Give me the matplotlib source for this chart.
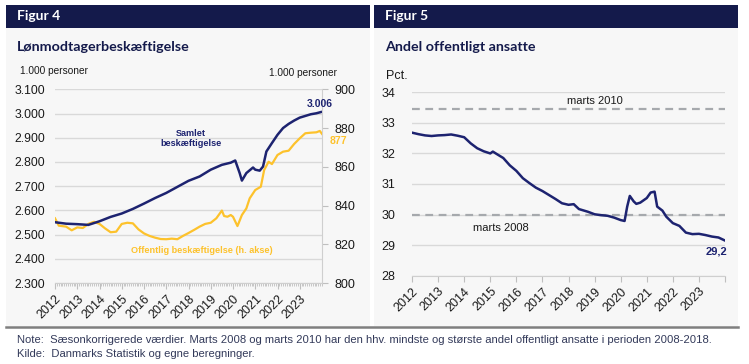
import matplotlib
matplotlib.use("Agg")
import matplotlib.pyplot as plt
from matplotlib.patches import Rectangle
from matplotlib.lines import Line2D
from matplotlib.ticker import MultipleLocator

# ---------------- data ----------------
years = list(range(2012, 2024))
year_labels = [str(y) for y in years]

samlet_x = [2012.0, 2012.5, 2013.0, 2013.5, 2014.0, 2014.5, 2015.0, 2015.5, 2016.0, 2016.5,
            2017.0, 2017.5, 2018.0, 2018.5, 2019.0, 2019.5, 2019.9, 2020.1, 2020.3, 2020.4,
            2020.6, 2020.9, 2021.0, 2021.2, 2021.35, 2021.5, 2021.75, 2022.0, 2022.25, 2022.5,
            2022.75, 2023.0, 2023.25, 2023.5, 2023.75, 2023.95]
samlet_y = [2551, 2545, 2543, 2540, 2555, 2573, 2587, 2606, 2628, 2651,
            2672, 2697, 2722, 2740, 2768, 2788, 2797, 2806, 2754, 2723,
            2754, 2777, 2768, 2764, 2781, 2843, 2878, 2912, 2940, 2957,
            2971, 2983, 2990, 2997, 3001, 3006]

offentlig_x = [2012.0, 2012.17, 2012.5, 2012.75, 2013.0, 2013.25, 2013.5, 2013.75, 2014.0, 2014.25,
               2014.5, 2014.75, 2015.0, 2015.25, 2015.5, 2015.75, 2016.0, 2016.25, 2016.5, 2016.75,
               2017.0, 2017.25, 2017.5, 2017.75, 2018.0, 2018.25, 2018.5, 2018.75, 2019.0, 2019.25,
               2019.5, 2019.6, 2019.75, 2019.9, 2020.0, 2020.2, 2020.25, 2020.4, 2020.6, 2020.75,
               2021.0, 2021.25, 2021.4, 2021.6, 2021.75, 2022.0, 2022.25, 2022.5, 2022.75, 2023.0,
               2023.25, 2023.5, 2023.75, 2023.9, 2024.0]
offentlig_y = [833.4, 829.6, 829.1, 827.2, 828.7, 828.4, 830.5, 831.6, 830.5, 828.2,
               826.2, 826.5, 830.5, 831.1, 830.8, 827.7, 825.6, 824.3, 823.4, 822.7,
               822.6, 822.9, 822.6, 824.3, 825.8, 827.4, 829.1, 830.5, 831.1, 833.4,
               837.4, 834.6, 834.2, 835.1, 834.2, 829.4, 830.8, 835.1, 838.5, 843.7,
               848.0, 849.7, 858.3, 862.6, 861.4, 866.1, 867.8, 868.3, 871.8, 874.7,
               877.3, 877.6, 877.8, 878.5, 877.0]

andel_x = [2012.0, 2012.25, 2012.5, 2012.75, 2013.0, 2013.25, 2013.5, 2013.75, 2014.0, 2014.25,
           2014.5, 2014.75, 2015.0, 2015.1, 2015.25, 2015.5, 2015.75, 2016.0, 2016.25, 2016.5,
           2016.75, 2017.0, 2017.25, 2017.5, 2017.75, 2018.0, 2018.2, 2018.4, 2018.75, 2019.0,
           2019.25, 2019.5, 2019.75, 2020.0, 2020.15, 2020.25, 2020.35, 2020.5, 2020.6, 2020.75,
           2021.0, 2021.15, 2021.3, 2021.4, 2021.6, 2021.75, 2022.0, 2022.25, 2022.5, 2022.75,
           2023.0, 2023.25, 2023.5, 2023.75, 2024.0]
andel_y = [32.68, 32.63, 32.59, 32.57, 32.59, 32.60, 32.62, 32.58, 32.53, 32.33,
           32.17, 32.07, 32.00, 32.06, 31.98, 31.85, 31.61, 31.43, 31.19, 31.03,
           30.88, 30.77, 30.64, 30.51, 30.37, 30.32, 30.34, 30.18, 30.09, 30.01,
           29.98, 29.96, 29.90, 29.82, 29.79, 30.26, 30.61, 30.43, 30.35, 30.39,
           30.54, 30.72, 30.75, 30.26, 30.13, 29.93, 29.72, 29.63, 29.41, 29.36,
           29.37, 29.33, 29.28, 29.25, 29.15]

marts2010 = 33.45
marts2008 = 30.0

left_ticks = [2300, 2400, 2500, 2600, 2700, 2800, 2900, 3000, 3100]
right_ticks = [800, 820, 840, 860, 880, 900]
pct_ticks = [28, 29, 30, 31, 32, 33, 34]

# ---------------- style ----------------
NAVY_HDR = "#141a4b"
NAVY = "#1d2370"
YELLOW = "#fdc22c"
GRID = "#d9d9d9"
PANEL = "#f7f7f7"
TXT = "#1a1a1a"
FONT = "Liberation Sans"
TFONT = "Lato"

W, H = 749, 364
fig = plt.figure(figsize=(W / 100, H / 100), dpi=100)
fig.patch.set_facecolor("white")


def fx(px):
    return px / W


def fy(py):
    return 1 - py / H


def rect(x0, y0, x1, y1, color):
    fig.patches.append(Rectangle((fx(x0), fy(y1)), fx(x1) - fx(x0), fy(y0) - fy(y1),
                                 transform=fig.transFigure, facecolor=color,
                                 edgecolor="none", zorder=-5))


# panels
for (x0, x1, title, sub) in [(6, 370, "Figur 4", "Lønmodtagerbeskæftigelse"),
                              (374, 738, "Figur 5", "Andel offentligt ansatte")]:
    rect(x0, 28, x1, 326, PANEL)
    rect(x0, 5, x1, 28, NAVY_HDR)
    fig.text(fx(x0 + 11), fy(16.5), title, color="white", fontsize=10,
             fontweight="bold", family=TFONT, va="center", ha="left")
    fig.text(fx(x0 + 11), fy(47), sub, color=NAVY_HDR, fontsize=10.3,
             fontweight="bold", family=TFONT, va="center", ha="left")

fig.lines.append(Line2D([fx(6), fx(738)], [fy(326.5), fy(326.5)], transform=fig.transFigure,
                        color="#7f7f7f", lw=1.8))

fig.text(fx(17), fy(340), "Note:  Sæsonkorrigerede værdier. Marts 2008 og marts 2010 har den hhv. "
         "mindste og største andel offentligt ansatte i perioden 2008-2018.",
         fontsize=8.1, family=FONT, color="#333a5a", va="center", ha="left")
fig.text(fx(17), fy(354), "Kilde:  Danmarks Statistik og egne beregninger.",
         fontsize=8.1, family=FONT, color="#333a5a", va="center", ha="left")

# ---------------- left chart ----------------
ax2 = fig.add_axes([fx(55), fy(283), fx(322) - fx(55), fy(89.3) - fy(283)])
ax2.set_facecolor("none")
ax2.set_xlim(2012, 2024)
ax2.set_ylim(800, 900)
ax2.yaxis.tick_right()
ax2.set_yticks(right_ticks)
ax2.set_yticklabels([str(v) for v in right_ticks], fontsize=9, family=FONT, color=TXT)
for s in ["left", "top", "bottom"]:
    ax2.spines[s].set_visible(False)
ax2.spines["right"].set_color("#cfcfcf")
ax2.tick_params(axis="y", length=4, color="#bfbfbf", pad=5)
ax2.set_xticks([])

ax = fig.add_axes([fx(55), fy(283), fx(322) - fx(55), fy(89.3) - fy(283)])
ax.set_facecolor("none")
ax.set_xlim(2012, 2024)
ax.set_ylim(2300, 3100)
ax.set_yticks(left_ticks)
ax.set_yticklabels([f"{v // 1000}.{v % 1000:03d}" for v in left_ticks])
for s in ["left", "top", "right"]:
    ax.spines[s].set_visible(False)
ax.spines["bottom"].set_color("#cfcfcf")
ax.set_xticks(years)
ax.set_xticklabels(year_labels, rotation=45, ha="right", rotation_mode="anchor",
                   fontsize=9, family=FONT, color=TXT)
ax.xaxis.set_minor_locator(MultipleLocator(1 / 12))
ax.tick_params(axis="x", which="major", length=4, color="#bfbfbf", pad=3)
ax.tick_params(axis="x", which="minor", length=2, color="#bfbfbf")
ax.tick_params(axis="y", length=0, labelsize=8.8, labelcolor=TXT, pad=7)
for lab in ax.get_yticklabels():
    lab.set_family(FONT)

# gridlines drawn on the lower axes so both lines sit above them
for v in left_ticks:
    ax2.axhline(800 + (v - 2300) / 8, color=GRID, lw=1, zorder=1)

ax2.plot(offentlig_x, offentlig_y, color=YELLOW, lw=1.6, zorder=3)
ax.plot(samlet_x, samlet_y, color=NAVY, lw=1.8, zorder=4)

ax.text(2018.11, 2895, "Samlet\nbeskæftigelse", color=NAVY, fontsize=6.6, fontweight="bold",
        family=FONT, ha="center", va="center", linespacing=1.15)
ax2.text(2018.58, 817, "Offentlig beskæftigelse (h. akse)", color=YELLOW, fontsize=6.6,
         fontweight="bold", family=FONT, ha="center", va="center")
ax.text(2023.9, 3039, "3.006", color=NAVY, fontsize=7.5, fontweight="bold", family=FONT,
        ha="center", va="center")
ax2.text(2024.76, 873.3, "877", color=YELLOW, fontsize=7.5, fontweight="bold", family=FONT,
         ha="center", va="center", clip_on=False)
fig.text(fx(20), fy(71), "1.000 personer", fontsize=7.3, family=FONT, color=TXT,
         ha="left", va="center")
fig.text(fx(337), fy(73), "1.000 personer", fontsize=7.3, family=FONT, color=TXT,
         ha="right", va="center")

# ---------------- right chart ----------------
bx = fig.add_axes([fx(412), fy(275.7), fx(725) - fx(412), fy(92.3) - fy(275.7)])
bx.set_facecolor("none")
bx.set_xlim(2012, 2024)
bx.set_ylim(28, 34)
bx.set_yticks(pct_ticks)
bx.set_yticklabels([str(v) for v in pct_ticks], fontsize=9, family=FONT, color=TXT)
bx.grid(axis="y", color=GRID, lw=1)
bx.set_axisbelow(True)
for s in ["left", "top", "right"]:
    bx.spines[s].set_visible(False)
bx.spines["bottom"].set_color("#cfcfcf")
bx.set_xticks(list(years) + [2024])
bx.set_xticklabels(year_labels + [""], rotation=45, ha="right", rotation_mode="anchor",
                   fontsize=9, family=FONT, color=TXT)
bx.tick_params(axis="x", length=4, color="#bfbfbf", pad=3)
bx.tick_params(axis="y", length=0, pad=12)

bx.axhline(marts2010, color="#a6a9ad", lw=1.6, ls=(0, (3.5, 2.5)), zorder=2)
bx.axhline(marts2008, color="#a6a9ad", lw=1.6, ls=(0, (3.5, 2.5)), zorder=2)
bx.plot(andel_x, andel_y, color=NAVY, lw=1.8, zorder=4)

bx.text(2019.0, 33.7, "marts 2010", fontsize=8, family=FONT, color=TXT, ha="center", va="center")
bx.text(2015.4, 29.55, "marts 2008", fontsize=8, family=FONT, color=TXT, ha="center", va="center")
bx.text(2023.69, 28.78, "29,2", fontsize=8, fontweight="bold", family=FONT, color=NAVY,
        ha="center", va="center")
fig.text(fx(386), fy(76), "Pct.", fontsize=9, family=FONT, color=TXT, ha="left", va="center")

fig.savefig("out.png", dpi=100)
